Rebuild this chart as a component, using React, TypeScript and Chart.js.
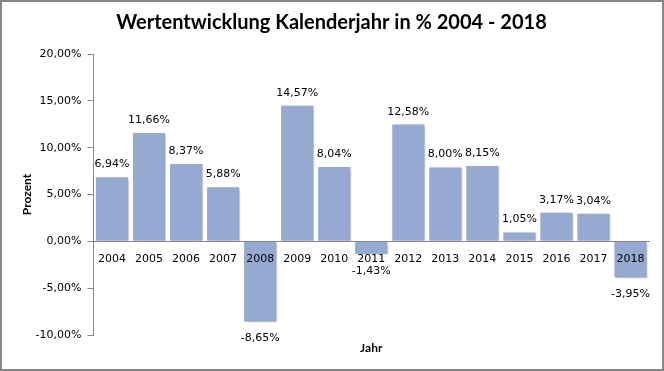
import React, { useEffect, useRef } from "react";
import { Chart, registerables } from "chart.js";

Chart.register(...registerables);

const categories = ["2004", "2005", "2006", "2007", "2008", "2009", "2010", "2011", "2012", "2013", "2014", "2015", "2016", "2017", "2018"];
const values = [6.94, 11.66, 8.37, 5.88, -8.65, 14.57, 8.04, -1.43, 12.58, 8.0, 8.15, 1.05, 3.17, 3.04, -3.95];
const titleText = "Wertentwicklung Kalenderjahr in % 2004 - 2018";
const xTitle = "Jahr";
const yTitle = "Prozent";

const fmt = (v: number) => v.toFixed(2).replace(".", ",") + "%";

const tickFont = "'DejaVu Sans', Verdana, sans-serif";
const boldFont = "Lato, 'Open Sans', sans-serif";

export default function App() {
  const ref = useRef<HTMLCanvasElement | null>(null);
  useEffect(() => {
    document.body.style.margin = "0";
    if (!ref.current) return;
    const borderPlugin = {
      id: "frame",
      beforeDraw(chart: any) {
        const ctx = chart.ctx;
        ctx.save();
        ctx.fillStyle = "#ffffff";
        ctx.fillRect(0, 0, chart.width, chart.height);
        ctx.restore();
      },
      afterDraw(chart: any) {
        const ctx = chart.ctx;
        ctx.save();
        ctx.strokeStyle = "#868686";
        ctx.lineWidth = 2;
        ctx.strokeRect(1, 1, chart.width - 2, chart.height - 2);
        const ca = chart.chartArea;
        ctx.fillStyle = "#000";
        ctx.font = `bold 12px ${boldFont}`;
        ctx.textAlign = "center";
        ctx.textBaseline = "middle";
        ctx.fillText(xTitle, (ca.left + ca.right) / 2, 348);
        ctx.restore();
      },
    };
    const shadowPlugin = {
      id: "barShadow",
      beforeDatasetDraw(chart: any) {
        const ctx = chart.ctx;
        ctx.save();
        ctx.shadowColor = "rgba(0,0,0,0.28)";
        ctx.shadowBlur = 3;
        ctx.shadowOffsetX = 1.5;
        ctx.shadowOffsetY = 1.5;
      },
      afterDatasetDraw(chart: any) {
        chart.ctx.restore();
      },
    };
    const labelPlugin = {
      id: "valueLabels",
      afterDatasetsDraw(chart: any) {
        const ctx = chart.ctx;
        const meta = chart.getDatasetMeta(0);
        ctx.save();
        ctx.fillStyle = "#000";
        ctx.font = `11px ${tickFont}`;
        ctx.textAlign = "center";
        ctx.textBaseline = "alphabetic";
        meta.data.forEach((el: any, i: number) => {
          const v = values[i];
          const y = v >= 0 ? el.y - 9 : el.y + 19;
          ctx.fillText(fmt(v), el.x, y);
        });
        ctx.restore();
      },
    };
    const chart = new Chart(ref.current, {
      type: "bar",
      data: {
        labels: categories,
        datasets: [
          {
            data: values,
            backgroundColor: "#95A9D1",
            borderColor: "#ffffff",
            borderWidth: 1,
            barPercentage: 0.92,
            categoryPercentage: 1,
          },
        ],
      },
      options: {
        animation: false,
        responsive: true,
        maintainAspectRatio: false,
        layout: { padding: { top: 3, bottom: 36, left: 14, right: 15 } },
        plugins: {
          legend: { display: false },
          tooltip: { enabled: false },
          title: {
            display: true,
            text: titleText,
            color: "#000",
            font: { family: boldFont, size: 20, weight: "bold" },
            padding: { top: 8, bottom: 19 },
          },
        },
        scales: {
          x: {
            position: { y: 0 } as any,
            grid: { display: false, drawTicks: false },
            border: { display: true, color: "#868686", width: 1, z: 1 },
            ticks: {
              color: "#000",
              font: { family: tickFont, size: 11 },
              padding: 11,
              z: 1,
              maxRotation: 0,
              autoSkip: false,
            },
          },
          y: {
            min: -10,
            max: 20,
            afterFit: (scale: any) => {
              scale.width = 79.5;
            },
            ticks: {
              stepSize: 5,
              color: "#000",
              font: { family: tickFont, size: 11 },
              padding: 6,
              callback: (v: any) => fmt(Number(v)),
            },
            grid: { drawOnChartArea: false, drawTicks: true, tickLength: 6, color: "#868686" },
            border: { display: true, color: "#868686", width: 1 },
            title: {
              display: true,
              text: yTitle,
              color: "#000",
              font: { family: boldFont, size: 12, weight: "bold" },
              padding: { top: 6, bottom: 0 },
            },
          },
        },
      },
      plugins: [borderPlugin, shadowPlugin, labelPlugin],
    });
    return () => chart.destroy();
  }, []);
  return (
    <div style={{ position: "relative", width: 664, height: 371 }}>
      <canvas ref={ref} />
    </div>
  );
}
